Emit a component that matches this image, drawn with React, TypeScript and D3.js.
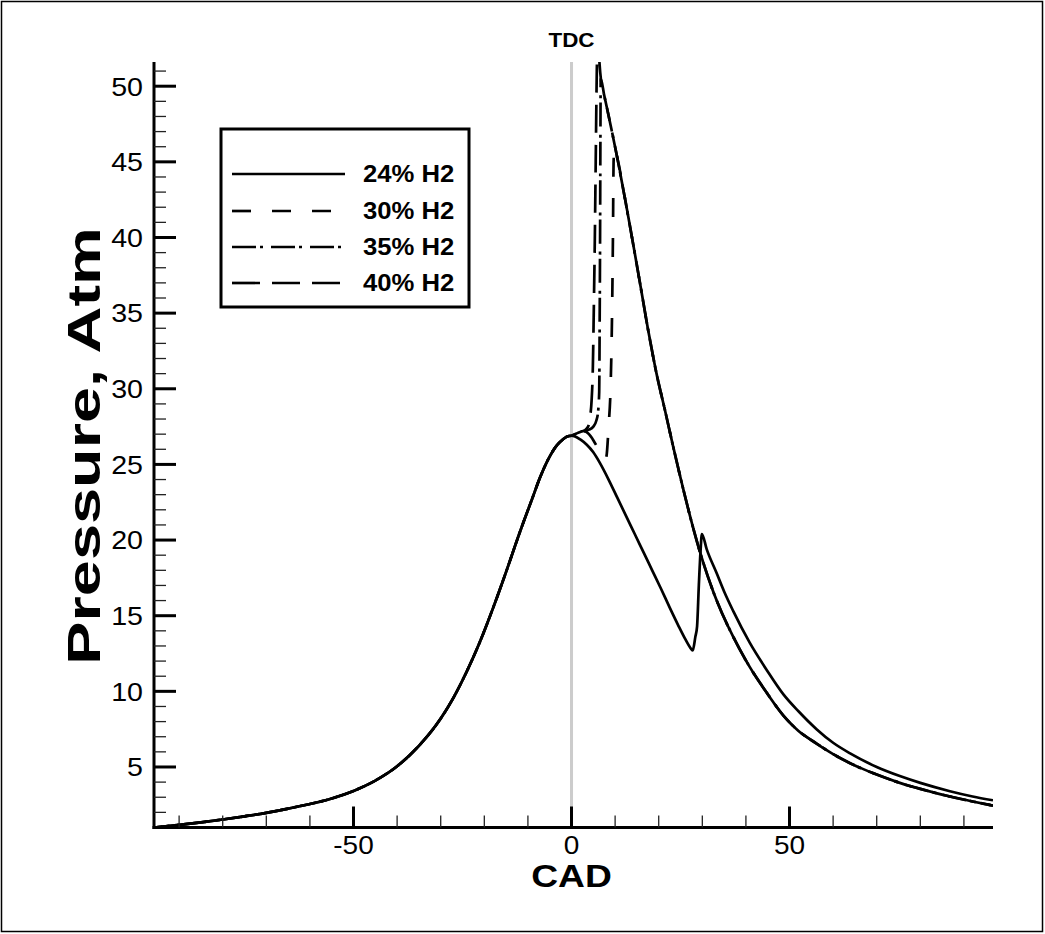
import React, { useLayoutEffect, useRef, useState } from "react";
import * as d3 from "d3";

const W = 1045;
const H = 934;

// ---- Data (CAD in degrees, pressure in atm) ----
const X_DOMAIN: [number, number] = [-95.76, 96.67];
const Y_DOMAIN: [number, number] = [1, 51.6];
const X_MAJOR = [-50, 0, 50];
const X_MAJOR_LABELS = ["-50", "0", "50"];
const X_MINOR = [-90, -80, -70, -60, -40, -30, -20, -10, 10, 20, 30, 40, 60, 70, 80, 90];
const Y_MAJOR = [5, 10, 15, 20, 25, 30, 35, 40, 45, 50];

// compression stroke (shared by all cases)
const riseCAD = [-95.8, -90, -85, -80, -75, -70, -65, -60, -55, -50, -45, -40, -35, -30, -27, -24, -21, -18, -15, -12, -11, -9, -7.2, -5.5, -3.4, -2, -1, 0];
const riseP = [1.0, 1.17, 1.34, 1.53, 1.74, 1.97, 2.25, 2.55, 2.92, 3.42, 4.1, 5.05, 6.4, 8.2, 9.62, 11.33, 13.28, 15.5, 17.9, 20.4, 21.2, 22.75, 24.15, 25.25, 26.25, 26.65, 26.85, 26.9];

// 24% H2 after TDC (late ignition near 30 CAD)
const h24CAD = [0.8, 2, 3.5, 5, 6.5, 8.5, 10.5, 12.5, 14.5, 16.5, 18.5, 20.5, 22.5, 24.5, 26, 27.2, 27.8, 28.4, 28.8, 29.2, 29.6, 29.9, 31, 33.3, 35, 37.1, 40.9, 44.8, 48.6, 52, 56.2, 60, 63.9, 70, 75.3, 80, 86.8, 92, 96.67];
const h24P = [26.85, 26.65, 26.3, 25.8, 25.1, 24.0, 22.8, 21.6, 20.4, 19.2, 18.0, 16.8, 15.55, 14.35, 13.5, 12.9, 12.7, 13.6, 14.3, 17.0, 19.3, 20.4, 19.4, 17.8, 16.6, 15.3, 13.2, 11.4, 9.8, 8.7, 7.5, 6.6, 5.9, 5.0, 4.4, 3.95, 3.4, 3.05, 2.8];

// shared expansion after early ignition (30, 35, 40% H2)
const expCAD = [6.8, 7.5, 8.4, 10.4, 13, 15.7, 17.5, 19.5, 21.5, 23.3, 25.6, 27.9, 29.9, 33.3, 37.1, 40.9, 44.8, 48.6, 52, 56.2, 60, 63.9, 70, 75.3, 80, 86.8, 92, 96.67];
const expP = [50.3, 49.4, 48.2, 45.4, 41.4, 37.0, 34.0, 31.0, 28.5, 26.2, 23.4, 20.8, 18.8, 16.0, 13.6, 11.6, 9.9, 8.4, 7.4, 6.55, 5.85, 5.25, 4.5, 3.95, 3.55, 3.05, 2.72, 2.45];

// ignition segments
const h30CAD = [0.8, 2, 3, 4, 5, 6, 7, 7.7, 8.0, 8.5, 9.0, 9.3, 9.5, 9.65, 9.9];
const h30P = [27.0, 27.15, 27.2, 27.0, 26.6, 26.1, 25.6, 25.3, 25.5, 27.5, 30.5, 35, 40, 45, 46.0];
const h35CAD = [0.8, 2, 3, 4, 5, 5.7, 6.1, 6.35, 6.45, 6.55, 6.62, 6.7];
const h35P = [27.0, 27.15, 27.2, 27.3, 27.5, 27.9, 28.5, 29.8, 34, 40, 46, 50.5];
const h40CAD = [0.8, 2, 3, 3.8, 4.3, 4.6, 4.9, 5.1, 5.35, 5.55, 5.8, 6.05, 6.4];
const h40P = [27.0, 27.15, 27.25, 27.5, 28.2, 29.2, 31.5, 35, 40, 45, 51, 53.5, 51.6];

const LEGEND_LABELS = ["24% H2", "30% H2", "35% H2", "40% H2"];
const DASHES = ["none", "19 21", "24 4 3 8", "28 12"];
const PERIODS = [0, 40, 39, 40];
const PHASE_AT_SHARED = [0, 0, 10, 24];

type Pt = [number, number];
const zip = (a: number[], b: number[]): Pt[] => a.map((v, i) => [v, b[i]] as Pt);
const rise = zip(riseCAD, riseP);
const expPts = zip(expCAD, expP);
const withExp = (seg: Pt[]): Pt[] => {
  const last = seg[seg.length - 1][0];
  return [...rise, ...seg, ...expPts.filter((p) => p[0] > last + 0.3)];
};
const SERIES: Pt[][] = [
  [...rise, ...zip(h24CAD, h24P)],
  withExp(zip(h30CAD, h30P)),
  withExp(zip(h35CAD, h35P)),
  withExp(zip(h40CAD, h40P)),
];
const SHARED_SUFFIX = expPts.filter((p) => p[0] >= 10.4);

const FONT = "'Liberation Sans', Arial, Helvetica, sans-serif";

function T(props: { x: number; y: number; anchor?: string; size: number; bold?: boolean; sx?: number; rot?: number; text: string }) {
  const { x, y, anchor = "start", size, bold, sx = 1.1, rot = 0, text } = props;
  return (
    <g transform={`translate(${x},${y}) rotate(${rot}) scale(${sx},1)`}>
      <text x={0} y={0} textAnchor={anchor} fontFamily={FONT} fontSize={size} fontWeight={bold ? "bold" : "normal"} fill="#000">
        {text}
      </text>
    </g>
  );
}

export default function App() {
  const L = 154, R = 993, TOP = 62, BOT = 827.5;
  const x = d3.scaleLinear().domain(X_DOMAIN).range([L, R]);
  const y = d3.scaleLinear().domain(Y_DOMAIN).range([BOT, TOP]);
  const line = d3
    .line<Pt>()
    .x((d) => x(d[0]))
    .y((d) => y(d[1]))
    .curve(d3.curveMonotoneX);

  const refs = useRef<(SVGPathElement | null)[]>([]);
  const sufRef = useRef<SVGPathElement | null>(null);
  const [offsets, setOffsets] = useState<number[]>([0, 0, 0, 0]);

  useLayoutEffect(() => {
    const suf = sufRef.current ? sufRef.current.getTotalLength() : 0;
    const next = SERIES.map((_, i) => {
      const p = refs.current[i];
      if (!p || !PERIODS[i]) return 0;
      const pre = p.getTotalLength() - suf;
      const per = PERIODS[i];
      return (((PHASE_AT_SHARED[i] - pre) % per) + per) % per;
    });
    setOffsets(next);
  }, []);

  const yMinor: number[] = [];
  for (let v = 2; v <= 51; v++) if (v % 5 !== 0) yMinor.push(v);

  const legendRows = [174, 211, 247, 283];

  return (
    <svg width={W} height={H} style={{ position: "absolute", left: 0, top: 0, background: "#fff" }}>
      <rect x={0} y={0} width={W} height={H} fill="#fff" />
      <rect x={1.5} y={1.5} width={1041} height={930} fill="none" stroke="#000" strokeWidth={1.5} />
      <defs>
        <clipPath id="plot">
          <rect x={L} y={TOP} width={R - L} height={BOT - TOP} />
        </clipPath>
      </defs>

      {/* TDC line */}
      <line x1={x(0)} x2={x(0)} y1={TOP} y2={BOT} stroke="#cccccc" strokeWidth={3} />
      <T x={x(0)} y={47} anchor="middle" size={20} bold sx={1.12} text="TDC" />

      {/* hidden measuring path for the shared expansion */}
      <path ref={sufRef} d={line(SHARED_SUFFIX) || ""} fill="none" stroke="none" />

      {/* curves */}
      <g clipPath="url(#plot)">
        {SERIES.map((s, i) => (
          <path
            key={i}
            ref={(el) => {
              refs.current[i] = el;
            }}
            d={line(s) || ""}
            fill="none"
            stroke="#000"
            strokeWidth={2.7}
            strokeDasharray={DASHES[i]}
            strokeDashoffset={offsets[i]}
            strokeLinejoin="round"
          />
        ))}
      </g>

      {/* axes */}
      <line x1={L} x2={L} y1={TOP} y2={BOT + 1.5} stroke="#000" strokeWidth={3} />
      <line x1={L - 1.5} x2={R} y1={BOT} y2={BOT} stroke="#000" strokeWidth={3} />
      {Y_MAJOR.map((v) => (
        <g key={"ym" + v}>
          <line x1={L} x2={L + 22} y1={y(v)} y2={y(v)} stroke="#000" strokeWidth={3} />
          <T x={143} y={y(v) + 9.3} anchor="end" size={26} text={String(v)} />
        </g>
      ))}
      {yMinor.map((v) => (
        <line key={"yn" + v} x1={L} x2={L + 12} y1={y(v)} y2={y(v)} stroke="#222" strokeWidth={1.3} />
      ))}
      {X_MAJOR.map((v) => (
        <line key={"xm" + v} x1={x(v)} x2={x(v)} y1={BOT} y2={BOT - 21} stroke="#000" strokeWidth={3} />
      ))}
      {X_MINOR.map((v) => (
        <line key={"xn" + v} x1={x(v)} x2={x(v)} y1={BOT} y2={BOT - 12} stroke="#222" strokeWidth={1.3} />
      ))}

      {/* axis titles */}
      <T x={x(0)} y={887} anchor="middle" size={31} bold sx={1.2} text="CAD" />
      <T x={100} y={446} anchor="middle" size={47} bold sx={1.38} rot={-90} text="Pressure, Atm" />

      {/* legend */}
      <rect x={221} y={129} width={248} height={178} fill="#fff" stroke="#000" strokeWidth={3} />
      {LEGEND_LABELS.map((lab, i) => (
        <g key={lab}>
          <line x1={232} x2={345} y1={legendRows[i]} y2={legendRows[i]} stroke="#000" strokeWidth={2.7} strokeDasharray={DASHES[i]} />
          <T x={363} y={legendRows[i] + 7.5} size={24} bold sx={1.07} text={lab} />
        </g>
      ))}

      {/* x tick labels (drawn last) */}
      {X_MAJOR.map((v, i) => (
        <T key={"xl" + i} x={x(v)} y={853.5} anchor="middle" size={25} sx={1.12} text={X_MAJOR_LABELS[i]} />
      ))}
    </svg>
  );
}
